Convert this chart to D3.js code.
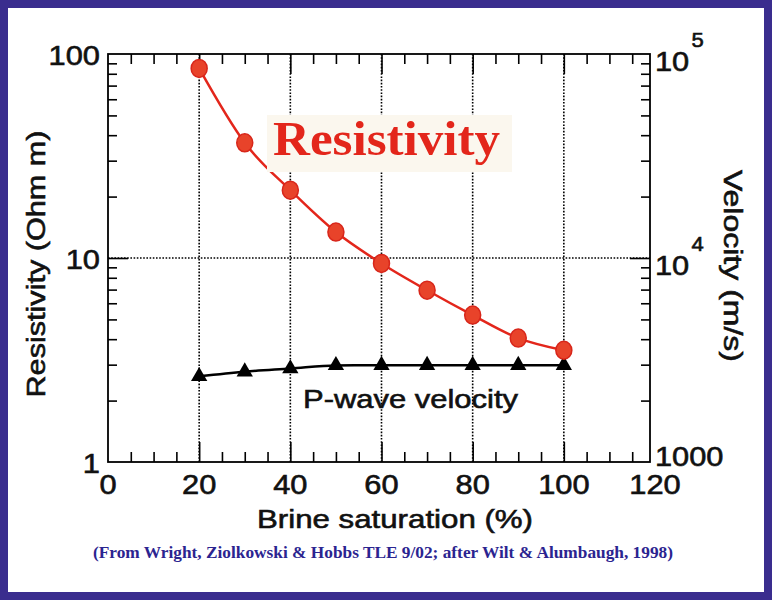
<!DOCTYPE html>
<html>
<head>
<meta charset="utf-8">
<script src="https://cdn.jsdelivr.net/npm/d3@7"></script>
<style>
  body { margin: 0; background: #fff; }
  text { font-family: "Liberation Sans", Arial, Helvetica, sans-serif; }
  .heavy { stroke: #111; stroke-width: 0.6; }
</style>
</head>
<body>
<script>
// data
let saturation = [20, 30, 40, 50, 60, 70, 80, 90, 100];
let resistivity = [85, 36.7, 21.5, 13.4, 9.4, 6.95, 5.25, 4.05, 3.53];
let velocity = [2630, 2770, 2870, 2975, 2980, 2980, 2980, 2980, 2980];

let xTicks = [0, 20, 40, 60, 80, 100, 120];
let leftTicks = [1, 10, 100];
let rightTicks = [
    {v: 1000, base: "1000", exp: ""},
    {v: 10000, base: "10", exp: "4"},
    {v: 100000, base: "10", exp: "5"}
];

let svgWidth = 772,
    svgHeight = 600,
    plot = {left: 108, right: 655, top: 54, bottom: 462},
    frameRight = 650;

let svg = d3.select("body").append("svg")
    .attr("width", svgWidth)
    .attr("height", svgHeight);

// outer border
svg.append("rect")
    .attr("x", 4).attr("y", 4)
    .attr("width", svgWidth - 8).attr("height", svgHeight - 8)
    .attr("fill", "#fff")
    .attr("stroke", "#3a2d8e")
    .attr("stroke-width", 8);

let x = d3.scaleLinear().domain([0, 120]).range([plot.left, plot.right]);
let yL = d3.scaleLog().domain([1, 100]).range([plot.bottom, plot.top]);
let yR = d3.scaleLog().domain([1000, 100000]).range([plot.bottom, plot.top]);

let xMinor = d3.range(5, 120, 5).filter(d => d % 20 !== 0);
let yMinor = [];
[1, 10].forEach(dec => { for (let i = 2; i <= 9; i++) yMinor.push(dec * i); });
let yRMinor = yMinor.map(d => d * 1000);

let left = x(0), right = frameRight;

// dotted grid
let grid = svg.append("g")
    .attr("stroke", "#000")
    .attr("stroke-width", 1.6)
    .attr("stroke-dasharray", "1.6,1.6");
grid.selectAll("line.v")
    .data(xTicks.filter(d => d > 0 && d < 120))
    .join("line")
    .attr("x1", d => x(d)).attr("x2", d => x(d))
    .attr("y1", plot.top).attr("y2", plot.bottom);
grid.append("line")
    .attr("x1", left).attr("x2", right)
    .attr("y1", yL(10)).attr("y2", yL(10));

function tickAxis(axis, g) {
    g.call(axis);
    g.select(".domain").remove();
    g.selectAll(".tick line").attr("stroke", "#000").attr("stroke-width", 1.6);
}

// bottom
tickAxis(d3.axisBottom(x).tickValues(xTicks.filter(d => d > 0 && d < 120)).tickSize(-20).tickFormat(""),
    svg.append("g").attr("transform", `translate(0,${plot.bottom})`));
tickAxis(d3.axisBottom(x).tickValues(xMinor).tickSize(-10).tickFormat(""),
    svg.append("g").attr("transform", `translate(0,${plot.bottom})`));
// top
tickAxis(d3.axisTop(x).tickValues(xTicks.filter(d => d > 0 && d < 120)).tickSize(-20).tickFormat(""),
    svg.append("g").attr("transform", `translate(0,${plot.top})`));
tickAxis(d3.axisTop(x).tickValues(xMinor).tickSize(-10).tickFormat(""),
    svg.append("g").attr("transform", `translate(0,${plot.top})`));
// left
tickAxis(d3.axisLeft(yL).tickValues([10]).tickSize(-20).tickFormat(""),
    svg.append("g").attr("transform", `translate(${left},0)`));
tickAxis(d3.axisLeft(yL).tickValues(yMinor).tickSize(-9).tickFormat(""),
    svg.append("g").attr("transform", `translate(${left},0)`));
// right
tickAxis(d3.axisRight(yR).tickValues([10000]).tickSize(-20).tickFormat(""),
    svg.append("g").attr("transform", `translate(${right},0)`));
tickAxis(d3.axisRight(yR).tickValues(yRMinor).tickSize(-9).tickFormat(""),
    svg.append("g").attr("transform", `translate(${right},0)`));

// frame
svg.append("rect")
    .attr("x", left).attr("y", plot.top)
    .attr("width", right - left).attr("height", plot.bottom - plot.top)
    .attr("fill", "none")
    .attr("stroke", "#000")
    .attr("stroke-width", 1.8);

// tick labels
svg.append("g").selectAll("text")
    .data(xTicks)
    .join("text")
    .attr("class", "heavy")
    .attr("x", d => x(d))
    .attr("y", 494)
    .attr("text-anchor", "middle")
    .attr("font-size", 28)
    .attr("fill", "#111")
    .attr("transform", d => `translate(${x(d)},0) scale(1.1,1) translate(${-x(d)},0)`)
    .text(d => d);

svg.append("g").selectAll("text")
    .data(leftTicks)
    .join("text")
    .attr("class", "heavy")
    .attr("x", 100)
    .attr("y", d => yL(d) + 11)
    .attr("text-anchor", "end")
    .attr("font-size", 28)
    .attr("fill", "#111")
    .attr("transform", "translate(100,0) scale(1.1,1) translate(-100,0)")
    .text(d => d);

let rt = svg.append("g").selectAll("text")
    .data(rightTicks)
    .join("text")
    .attr("class", "heavy")
    .attr("x", 655)
    .attr("y", d => yR(d.v) + (d.exp ? 17 : 4))
    .attr("font-size", 28)
    .attr("fill", "#111")
    .attr("transform", "translate(655,0) scale(1.1,1) translate(-655,0)");
rt.append("tspan").text(d => d.base);
rt.append("tspan")
    .attr("dx", 2)
    .attr("dy", -24)
    .attr("font-size", 20)
    .text(d => d.exp);

// axis titles
svg.append("text")
    .attr("class", "heavy")
    .attr("transform", "translate(45,264) rotate(-90)")
    .attr("text-anchor", "middle")
    .attr("font-size", 25)
    .attr("textLength", 267)
    .attr("lengthAdjust", "spacingAndGlyphs")
    .attr("fill", "#111")
    .text("Resistivity (Ohm m)");

svg.append("text")
    .attr("class", "heavy")
    .attr("transform", "translate(724,266) rotate(90)")
    .attr("text-anchor", "middle")
    .attr("font-size", 25)
    .attr("textLength", 192)
    .attr("lengthAdjust", "spacingAndGlyphs")
    .attr("fill", "#111")
    .text("Velocity (m/s)");

svg.append("text")
    .attr("class", "heavy")
    .attr("x", 257)
    .attr("y", 528)
    .attr("font-size", 26)
    .attr("textLength", 276)
    .attr("lengthAdjust", "spacingAndGlyphs")
    .attr("fill", "#111")
    .text("Brine saturation (%)");

svg.append("text")
    .attr("x", 93)
    .attr("y", 558)
    .attr("font-weight", "bold")
    .attr("font-size", 17)
    .attr("textLength", 580)
    .attr("lengthAdjust", "spacingAndGlyphs")
    .attr("fill", "#2b2490")
    .style("font-family", "'Liberation Serif', 'Times New Roman', serif")
    .text("(From Wright, Ziolkowski & Hobbs TLE 9/02; after Wilt & Alumbaugh, 1998)");

// velocity series
let vLine = d3.line()
    .x((d, i) => x(saturation[i]))
    .y(d => yR(d))
    .curve(d3.curveMonotoneX);
svg.append("path")
    .datum(velocity)
    .attr("d", vLine)
    .attr("fill", "none")
    .attr("stroke", "#000")
    .attr("stroke-width", 2.5);
svg.append("g").selectAll("path")
    .data(velocity)
    .join("path")
    .attr("transform", (d, i) => `translate(${x(saturation[i])},${yR(d)})`)
    .attr("d", d3.symbol(d3.symbolTriangle, 115))
    .attr("fill", "#000");

// resistivity series
let rLine = d3.line()
    .x((d, i) => x(saturation[i]))
    .y(d => yL(d))
    .curve(d3.curveMonotoneX);
svg.append("path")
    .datum(resistivity)
    .attr("d", rLine)
    .attr("fill", "none")
    .attr("stroke", "#e3261b")
    .attr("stroke-width", 2.5);
svg.append("g").selectAll("ellipse")
    .data(resistivity)
    .join("ellipse")
    .attr("cx", (d, i) => x(saturation[i]))
    .attr("cy", d => yL(d))
    .attr("rx", 8)
    .attr("ry", 9)
    .attr("fill", "#e8432a")
    .attr("stroke", "#d8261a")
    .attr("stroke-width", 1.5);

// in-plot labels
svg.append("rect")
    .attr("x", 267).attr("y", 115)
    .attr("width", 245).attr("height", 57)
    .attr("fill", "#fbf7ee");
svg.append("text")
    .attr("x", 273)
    .attr("y", 155)
    .attr("font-weight", "bold")
    .attr("font-size", 48)
    .attr("textLength", 227)
    .attr("lengthAdjust", "spacingAndGlyphs")
    .attr("fill", "#e3261b")
    .style("font-family", "'Liberation Serif', 'Times New Roman', serif")
    .text("Resistivity");

svg.append("text")
    .attr("class", "heavy")
    .attr("x", 303)
    .attr("y", 408)
    .attr("font-size", 26)
    .attr("textLength", 215)
    .attr("lengthAdjust", "spacingAndGlyphs")
    .attr("fill", "#111")
    .text("P-wave velocity");
</script>
</body>
</html>
